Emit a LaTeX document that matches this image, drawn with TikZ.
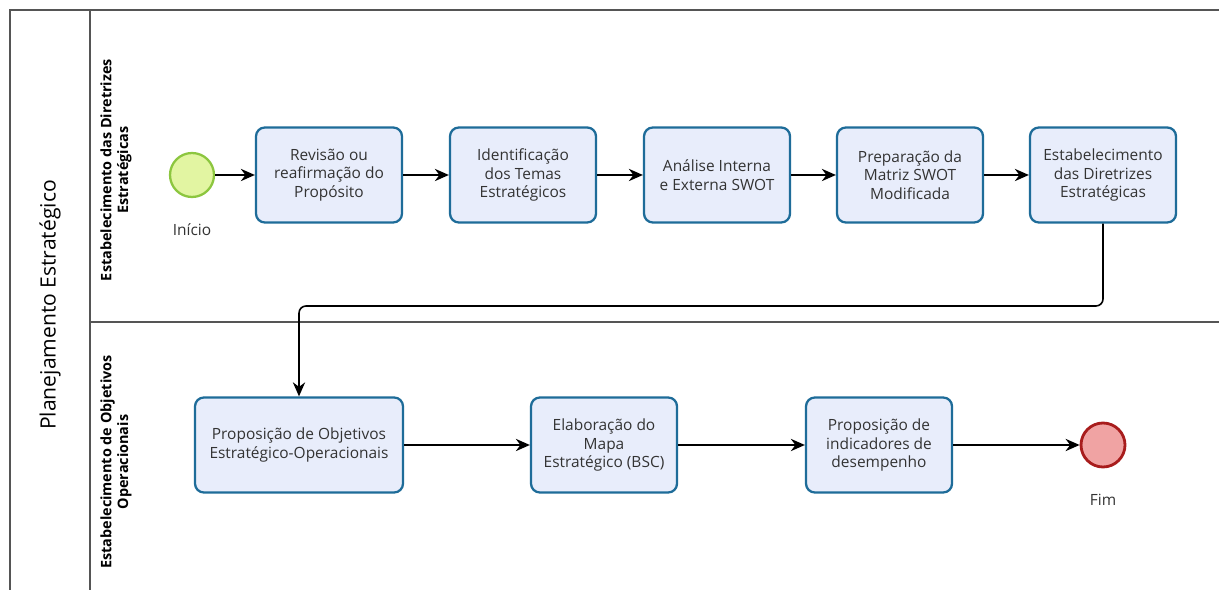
\documentclass[tikz,border=0pt]{standalone}
\usepackage{fontspec}
\setmainfont{Open Sans}
\usetikzlibrary{arrows.meta}
\definecolor{taskfill}{HTML}{E8EDFB}
\definecolor{taskdraw}{HTML}{1E6C99}
\definecolor{startfill}{HTML}{E2F5A2}
\definecolor{startdraw}{HTML}{8CC63F}
\definecolor{endfill}{HTML}{F0A3A3}
\definecolor{enddraw}{HTML}{A81C1C}
\definecolor{lanegray}{HTML}{555555}
\definecolor{txtgray}{HTML}{333333}
\begin{document}
\begin{tikzpicture}[x=0.02cm, y=-0.02cm, >={Stealth[length=8pt,width=7pt]},
    every node/.style={font=\fontsize{8.8}{10.6}\selectfont, text=txtgray},
    task/.style={draw=taskdraw, fill=taskfill, line width=1.3pt, rounded corners=5pt,
      minimum width=2.92cm, minimum height=1.9cm, align=center},
    startev/.style={circle, draw=startdraw, fill=startfill, line width=1.3pt, minimum size=0.88cm},
    endev/.style={circle, draw=enddraw, fill=endfill, line width=1.6pt, minimum size=0.88cm},
    flow/.style={->, line width=0.9pt, black},
    lanetitle/.style={rotate=90, align=center, text=black, font=\bfseries\fontsize{8.2}{9.6}\selectfont}]
    \useasboundingbox (0,0) rectangle (1219,590);
    \fill[white] (0,0) rectangle (1219,590);

    % pool and lanes
    \draw[lanegray, line width=0.8pt] (1219,10) -- (10,10) -- (10,590);
    \draw[lanegray, line width=0.8pt] (90,10) -- (90,590);
    \draw[lanegray, line width=0.8pt] (90,322) -- (1219,322);
    \node[rotate=90, text=black, font=\fontsize{12}{14}\selectfont] (pool) at (50,305) {Planejamento Estratégico};
    \node[lanetitle] (lane1) at (116,170) {Estabelecimento das Diretrizes\\Estratégicas};
    \node[lanetitle] (lane2) at (116,462) {Estabelecimento de Objetivos\\Operacionais};

    % first lane
    \node[startev] (inicio) at (192,175) {};
    \node (inicioLbl) at (192,230) {Início};
    \node[task] (revisao) at (329,175) {Revisão ou\\reafirmação do\\Propósito};
    \node[task] (temas) at (523,175) {Identificação\\dos Temas\\Estratégicos};
    \node[task] (swot) at (717,175) {Análise Interna\\e Externa SWOT};
    \node[task] (matriz) at (910,175) {Preparação da\\Matriz SWOT\\Modificada};
    \node[task] (diretrizes) at (1103,175) {Estabelecimento\\das Diretrizes\\Estratégicas};

    % second lane
    \node[task, minimum width=4.16cm] (objetivos) at (299,445) {Proposição de Objetivos\\Estratégico-Operacionais};
    \node[task] (mapa) at (604,445) {Elaboração do\\Mapa\\Estratégico (BSC)};
    \node[task] (indicadores) at (879,445) {Proposição de\\indicadores de\\desempenho};
    \node[endev] (fim) at (1103,445) {};
    \node (fimLbl) at (1103,500) {Fim};

    % sequence flows
    \coordinate (turn) at (0,306);
    \draw[flow] (inicio) -- (revisao);
    \draw[flow] (revisao) -- (temas);
    \draw[flow] (temas) -- (swot);
    \draw[flow] (swot) -- (matriz);
    \draw[flow] (matriz) -- (diretrizes);
    \draw[flow, rounded corners=4pt] (diretrizes.south) |- (objetivos.north |- turn) -- (objetivos.north);
    \draw[flow] (objetivos) -- (mapa);
    \draw[flow] (mapa) -- (indicadores);
    \draw[flow] (indicadores) -- (fim);
  \end{tikzpicture}
\end{document}
